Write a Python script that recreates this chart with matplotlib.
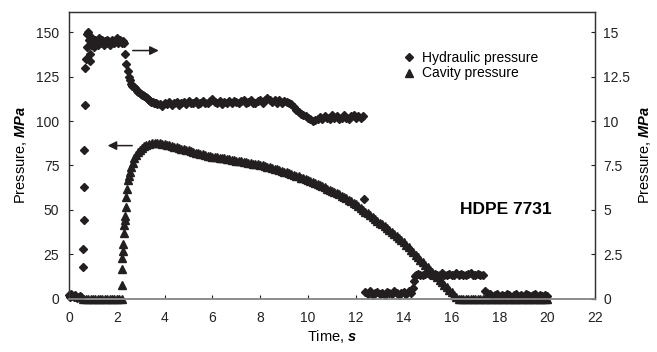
import numpy as np
import matplotlib
matplotlib.use('Agg')
import matplotlib.pyplot as plt
from matplotlib.lines import Line2D

plt.rcParams['font.family'] = ['Liberation Sans', 'DejaVu Sans']
plt.rcParams['mathtext.fontset'] = 'custom'
plt.rcParams['mathtext.rm'] = 'Liberation Sans'
plt.rcParams['mathtext.it'] = 'Liberation Sans:italic'
plt.rcParams['mathtext.bf'] = 'Liberation Sans:bold'
plt.rcParams['mathtext.bfit'] = 'Liberation Sans:italic:bold'


def steps(a, b, d):
    # sampling times of the logger
    return list(np.round(np.arange(a, b + d / 2, d), 2))


#%% hydraulic pressure (right axis, MPa)
hyd_t_start = steps(0.0, 0.5, 0.05)
hyd_start = [0.2, 0.1, 0.25, 0.15, 0.1, 0.2, 0.1, 0.05, 0.1, 0.15, 0.1]

hyd_t_spike = [0.57, 0.57, 0.62, 0.63, 0.63, 0.69, 0.68, 0.72, 0.74, 0.77, 0.79, 0.86, 0.88]
hyd_spike = [1.75, 2.8, 4.4, 6.3, 8.4, 10.9, 13.0, 13.5, 14.2, 14.9, 15.0, 13.8, 13.4]

hyd_t_hold = steps(0.8, 2.3, 0.05)
hyd_hold = [14.9, 14.6, 14.3, 14.7, 14.4, 14.2, 14.6, 14.5, 14.3, 14.7,
            14.4, 14.5, 14.6, 14.3, 14.5, 14.4, 14.6, 14.5, 14.3, 14.4,
            14.6, 14.5, 14.4, 14.5, 14.7, 14.4, 14.5, 14.6, 14.4, 14.5, 14.4]

hyd_t_drop = steps(2.35, 3.7, 0.05)
hyd_drop = [13.8, 13.2, 12.8, 12.5, 12.3, 12.1, 12.0, 11.9, 11.85, 11.8,
            11.72, 11.67, 11.6, 11.55, 11.5, 11.45, 11.4, 11.35, 11.3, 11.25,
            11.2, 11.15, 11.1, 11.07, 11.04, 11.0, 11.0, 10.98]

hyd_t_pack = steps(3.8, 9.2, 0.1)
hyd_pack = [10.95, 10.85, 11.0, 10.95, 11.1, 10.9, 11.0, 11.1, 10.9, 11.0,
            11.1, 10.95, 11.15, 11.0, 11.05, 11.15, 10.95, 11.05, 11.15, 11.0,
            11.05, 11.15, 11.25, 11.1, 11.0, 11.15, 10.95, 11.1, 11.05, 11.15,
            11.0, 11.15, 11.1, 11.0, 11.15, 11.2, 11.0, 11.1, 11.2, 11.05,
            11.05, 11.15, 11.2, 11.05, 11.2, 11.3, 11.2, 11.1, 11.2, 11.05,
            11.2, 11.05, 11.15, 11.1, 11.05]

hyd_t_step = steps(9.3, 12.3, 0.1)
hyd_step = [10.95, 10.8, 10.65, 10.5, 10.4, 10.35, 10.3, 10.2, 10.1, 10.0, 10.05,
            10.1, 10.25, 10.1, 10.3, 10.2, 10.1, 10.35, 10.2, 10.3, 10.1,
            10.2, 10.35, 10.15, 10.1, 10.3, 10.35, 10.15, 10.3, 10.2, 10.3]

hyd_t_lone = [12.35]
hyd_lone = [5.6]

hyd_t_low1 = steps(12.4, 14.3, 0.1)
hyd_low1 = [0.35, 0.25, 0.4, 0.2, 0.3, 0.35, 0.25, 0.3, 0.2, 0.35,
            0.3, 0.25, 0.4, 0.3, 0.2, 0.3, 0.35, 0.25, 0.4, 0.3]

hyd_t_rise = [14.37, 14.42, 14.47]
hyd_rise = [0.6, 1.0, 1.25]

hyd_t_mid = steps(14.5, 17.3, 0.1)
hyd_mid = [1.3, 1.4, 1.35, 1.3, 1.4, 1.45, 1.3, 1.35, 1.4, 1.3,
           1.35, 1.45, 1.35, 1.3, 1.4, 1.35, 1.3, 1.45, 1.35, 1.4,
           1.3, 1.35, 1.4, 1.45, 1.35, 1.3, 1.4, 1.35, 1.3]

hyd_t_low2 = steps(17.4, 20.0, 0.1)
hyd_low2 = [0.45, 0.3, 0.25, 0.15, 0.2, 0.25, 0.1, 0.2, 0.15, 0.25,
            0.2, 0.1, 0.2, 0.25, 0.15, 0.2, 0.1, 0.25, 0.2, 0.15,
            0.2, 0.25, 0.1, 0.2, 0.15, 0.2, 0.15]

#%% cavity pressure (left axis, MPa)
cav_t_idle = steps(0.6, 2.2, 0.1)
cav_idle = [0.0, 0.0, 0.0, 0.0, 0.0, 0.0, 0.0, 0.0, 0.0,
            0.0, 0.0, 0.0, 0.0, 0.0, 0.0, 0.0, 0.0]

cav_t_rise = [2.21, 2.22, 2.23, 2.25, 2.27, 2.29, 2.31, 2.33, 2.35, 2.37,
              2.40, 2.43, 2.47, 2.51, 2.55, 2.60, 2.66, 2.73, 2.80, 2.88,
              2.96, 3.04, 3.14, 3.24, 3.35, 3.46]
cav_rise = [7.4, 16.4, 22.6, 27.0, 31.0, 36.8, 41.3, 44.0, 46.4, 51.5,
            57.0, 62.0, 66.8, 69.0, 71.3, 74.0, 76.4, 79.0, 81.0, 82.6,
            84.0, 85.0, 86.0, 86.8, 87.3, 87.7]

cav_t_decay = steps(3.6, 16.2, 0.1)
cav_decay = [87.7, 87.6, 87.5, 87.3, 87.0, 86.6, 86.3, 85.9, 85.6, 85.2,
             84.9, 84.5, 84.2, 83.9, 83.5, 83.1, 82.7, 82.3, 81.9, 81.5,
             81.2, 80.9, 80.6, 80.3, 80.0, 79.8, 79.6, 79.4, 79.2, 79.0,
             78.8, 78.5, 78.3, 78.0, 77.8, 77.6, 77.3, 77.1, 76.8, 76.6,
             76.3, 76.1, 75.8, 75.6, 75.3, 75.0, 74.6, 74.3, 74.0, 73.6,
             73.2, 72.8, 72.4, 72.0, 71.6, 71.2, 70.7, 70.2, 69.8, 69.3,
             68.8, 68.2, 67.7, 67.1, 66.6, 66.0, 65.5, 64.9, 64.4, 63.8,
             63.2, 62.6, 62.0, 61.4, 60.8, 60.1, 59.4, 58.7, 58.0, 57.3,
             56.5, 55.6, 54.8, 53.9, 53.0, 52.0, 51.0, 50.0, 49.0, 48.0,
             47.0, 45.9, 44.9, 43.8, 42.8, 41.8, 40.7, 39.7, 38.6, 37.6,
             36.4, 35.2, 34.0, 32.8, 31.6, 30.2, 28.9, 27.5, 26.2, 24.8,
             23.3, 21.9, 20.4, 19.0, 17.5, 16.1, 14.7, 13.3, 11.9, 10.5,
             9.1, 7.7, 6.3, 4.9, 3.5, 2.0, 0.8]

cav_t_end = steps(16.3, 20.0, 0.1)
cav_end = [0.0] * len(cav_t_end)

hyd_t = (hyd_t_start + hyd_t_spike + hyd_t_hold + hyd_t_drop + hyd_t_pack + hyd_t_step
         + hyd_t_lone + hyd_t_low1 + hyd_t_rise + hyd_t_mid + hyd_t_low2)
hyd = (hyd_start + hyd_spike + hyd_hold + hyd_drop + hyd_pack + hyd_step
       + hyd_lone + hyd_low1 + hyd_rise + hyd_mid + hyd_low2)
cav_t = cav_t_idle + cav_t_rise + cav_t_decay + cav_t_end
cav = cav_idle + cav_rise + cav_decay + cav_end

#%% plot
ink = '#231f20'
fig = plt.figure(figsize=(6.57, 3.52), dpi=100)
ax = fig.add_axes([69 / 657, 1 - 298.5 / 352, (595 - 69) / 657, (298.5 - 11.7) / 352])
ax2 = ax.twinx()

ax.plot(cav_t, cav, ls='none', marker='^', ms=5.2, color=ink, clip_on=False)
ax2.plot(hyd_t, hyd, ls='none', marker='D', ms=4.3, color=ink, clip_on=False)

ax.set_xlim(0, 22)
ax.set_ylim(0, 161.7)
ax2.set_ylim(0, 16.17)
ax.set_xticks(range(0, 23, 2))
ax.set_yticks(range(0, 151, 25))
ax2.set_yticks([0, 2.5, 5, 7.5, 10, 12.5, 15])
ax2.set_yticklabels(['0', '2.5', '5', '7.5', '10', '12.5', '15'])

ax.tick_params(axis='both', direction='in', length=3, labelsize=10, colors='#222222')
ax.tick_params(axis='y', pad=7)
ax.tick_params(axis='x', pad=9)
ax2.tick_params(axis='y', direction='in', length=3, labelsize=10, pad=6, colors='#222222')

for a in (ax, ax2):
    for s in ('left', 'right', 'top'):
        a.spines[s].set_color('#333333')
        a.spines[s].set_linewidth(0.9)
    a.spines['bottom'].set_color('#8c8c8c')
    a.spines['bottom'].set_linewidth(1.2)

ax.set_xlabel(r'Time, $\mathbfit{s}$', fontsize=10.5, labelpad=2)
ax.set_ylabel(r'Pressure, $\mathbfit{MPa}$', fontsize=10.5, labelpad=5)
ax2.set_ylabel(r'Pressure, $\mathbfit{MPa}$', fontsize=10.5, labelpad=5, rotation=90)

# arrows pointing to the axis each series belongs to
ax.annotate('', xy=(3.87, 139.8), xytext=(2.55, 139.8),
            arrowprops=dict(arrowstyle='-|>', color=ink, lw=1.1, mutation_scale=13))
ax.annotate('', xy=(1.5, 86.2), xytext=(2.76, 86.2),
            arrowprops=dict(arrowstyle='-|>', color=ink, lw=1.1, mutation_scale=13))

ax.text(18.27, 50, 'HDPE 7731', fontsize=12.5, fontweight='bold', ha='center', va='center')

handles = [Line2D([], [], ls='none', marker='D', ms=4.3, color=ink),
           Line2D([], [], ls='none', marker='^', ms=5.2, color=ink)]
ax2.legend(handles, ['Hydraulic pressure', 'Cavity pressure'], loc='upper left',
           bbox_to_anchor=(403 / 657, 1 - 51 / 352), bbox_transform=fig.transFigure,
           frameon=False, fontsize=10, handlelength=0.9, handletextpad=0.5,
           borderpad=0, borderaxespad=0, labelspacing=0.1)

fig.savefig('out.png', dpi=100)
